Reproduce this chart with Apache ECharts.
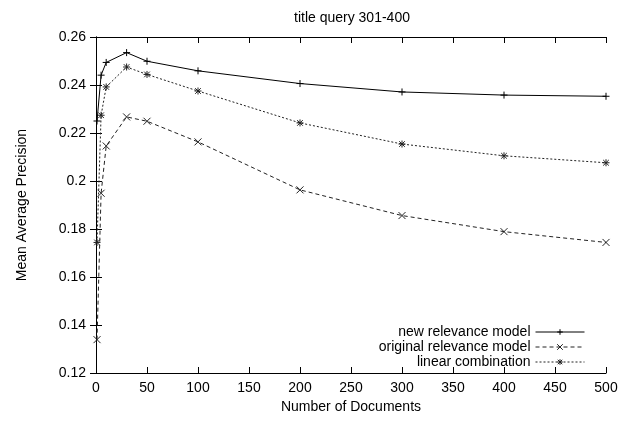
<!DOCTYPE html>
<html>
<head>
<meta charset="utf-8">
<script src="https://cdn.jsdelivr.net/npm/echarts@6/dist/echarts.min.js"></script>
<style>
html,body{margin:0;padding:0;background:#fff;}
#chart{width:631px;height:422px;}
</style>
</head>
<body>
<div id="chart"></div>
<script>
const titleText = 'title query 301-400';
const xName = 'Number of Documents';
const yName = 'Mean Average Precision';
const docs = [1, 5, 10, 30, 50, 100, 200, 300, 400, 500];
const newModel = [0.2250, 0.2441, 0.2494, 0.2535, 0.2499, 0.2459, 0.2406, 0.2371, 0.2358, 0.2353];
const origModel = [0.1339, 0.1949, 0.2146, 0.2267, 0.2249, 0.2163, 0.1963, 0.1856, 0.1789, 0.1744];
const linComb = [0.1744, 0.2274, 0.2392, 0.2475, 0.2444, 0.2375, 0.2242, 0.2154, 0.2105, 0.2076];
const seriesNames = ['new relevance model', 'original relevance model', 'linear combination'];

const FONT = '"Liberation Sans", Arial, Helvetica, sans-serif';
const pair = (ys) => docs.map((x, i) => [x, ys[i]]);

const plusSym = 'path://M0,-5L0,5M-5,0L5,0';
const crossSym = 'path://M-4,-4L4,4M-4,4L4,-4';
const starSym = 'path://M0,-5L0,5M-5,0L5,0M-4,-4L4,4M-4,4L4,-4';

const chart = echarts.init(document.getElementById('chart'), null, {renderer: 'canvas'});

const tickStyle = {show: true, inside: true, length: 6, lineStyle: {color: '#000', width: 1}};
const lineAx = {show: true, lineStyle: {color: '#000', width: 1}};
const labelStyle = {color: '#000', fontSize: 14, fontFamily: FONT};

function mkSeries(name, ys, sym, type, color) {
  return {
    name: name,
    type: 'line',
    data: pair(ys),
    symbol: sym,
    symbolSize: 7,
    showSymbol: true,
    lineStyle: {color: color, width: 1, type: type},
    itemStyle: {color: color, borderColor: color, borderWidth: 1},
    emphasis: {disabled: true},
    animation: false
  };
}

chart.setOption({
  animation: false,
  backgroundColor: '#fff',
  title: {
    text: titleText,
    left: 289,
    top: 6,
    textStyle: {color: '#000', fontSize: 14, fontWeight: 'normal', fontFamily: FONT}
  },
  grid: {left: 96, right: 25, top: 37, bottom: 49, containLabel: false},
  legend: {
    orient: 'vertical',
    align: 'right',
    right: 41,
    top: 320,
    itemWidth: 49,
    itemHeight: 7,
    itemGap: 1,
    lineStyle: {width: 1},
    itemStyle: {borderWidth: 1},
    textStyle: {color: '#000', fontSize: 14, fontFamily: FONT},
    data: seriesNames
  },
  xAxis: [{
    type: 'value', min: 0, max: 500, interval: 50, position: 'bottom',
    axisLine: lineAx, axisTick: tickStyle, splitLine: {show: false},
    axisLabel: Object.assign({margin: 8}, labelStyle),
    name: xName, nameLocation: 'middle', nameGap: 25,
    nameTextStyle: {color: '#000', fontSize: 14, fontFamily: FONT}
  }, {
    type: 'value', min: 0, max: 500, interval: 50, position: 'top',
    axisLine: lineAx, axisTick: tickStyle, splitLine: {show: false},
    axisLabel: {show: false}
  }],
  yAxis: [{
    type: 'value', min: 0.12, max: 0.26, interval: 0.02, position: 'left',
    axisLine: lineAx, axisTick: tickStyle, splitLine: {show: false},
    axisLabel: Object.assign({margin: 10, formatter: v => String(+v.toFixed(2))}, labelStyle),
    name: yName, nameLocation: 'middle', nameGap: 67, nameRotate: 90,
    nameTextStyle: {color: '#000', fontSize: 14, fontFamily: FONT}
  }, {
    type: 'value', min: 0.12, max: 0.26, interval: 0.02, position: 'right',
    axisLine: lineAx, axisTick: tickStyle, splitLine: {show: false},
    axisLabel: {show: false}
  }],
  series: [
    mkSeries(seriesNames[0], newModel, plusSym, 'solid', '#000'),
    mkSeries(seriesNames[1], origModel, crossSym, [4, 3], '#222'),
    mkSeries(seriesNames[2], linComb, starSym, [2, 2], '#222')
  ]
});
</script>
</body>
</html>
